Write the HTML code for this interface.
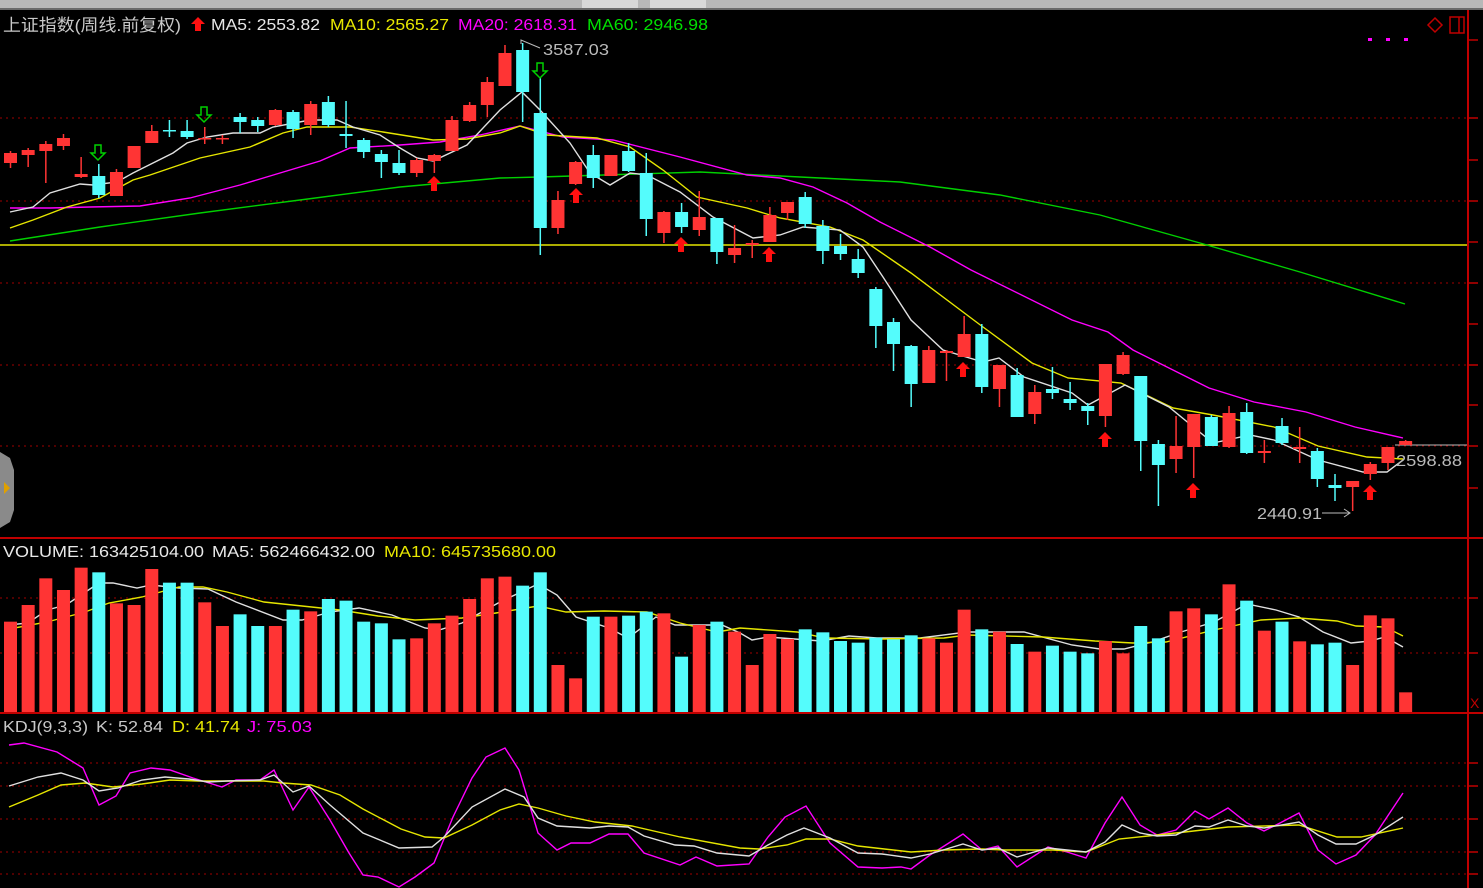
<!DOCTYPE html>
<html><head><meta charset="utf-8"><style>
html,body{margin:0;padding:0;background:#000;width:1483px;height:888px;overflow:hidden}
svg{display:block}
text{font-family:"Liberation Sans","Noto Sans CJK SC",sans-serif}
</style></head><body>
<svg id="s" width="1483" height="888" xmlns="http://www.w3.org/2000/svg">
<rect width="1483" height="888" fill="#000"/>
<rect x="0" y="0" width="1483" height="9" fill="#b8b8b8"/>
<rect x="0" y="8" width="1483" height="2" fill="#6a6a6a"/>
<rect x="582" y="0" width="56" height="8" fill="#d8d8d8"/><rect x="650" y="0" width="56" height="8" fill="#d8d8d8"/>
<g id="grid" stroke="#a00000" stroke-width="1" stroke-dasharray="2,4"></g>
<line x1="0" y1="245" x2="1468" y2="245" stroke="#e6e600" stroke-width="1.5"/>
<line x1="1395" y1="445" x2="1468" y2="445" stroke="#bbb" stroke-width="1"/>
<line x1="0" y1="538" x2="1483" y2="538" stroke="#c00000" stroke-width="2"/>
<line x1="0" y1="713" x2="1483" y2="713" stroke="#c00000" stroke-width="2"/>
<line x1="1468" y1="10" x2="1468" y2="888" stroke="#c00000" stroke-width="2"/>
<g id="ticks" stroke="#c00000" stroke-width="1.5"></g>
<g id="lines" fill="none"></g>
<g id="cndl"></g>
<g id="vol"></g>
<g id="arr"></g>
<path d="M0 452 L10 458 L14 470 L14 510 L10 522 L0 528 Z" fill="#8a8a8a"/>
<path d="M4 482 L10 488 L4 494 Z" fill="#e0a000"/>
<text x="3" y="31" font-size="17" fill="#c8c8c8" textLength="178" lengthAdjust="spacingAndGlyphs">上证指数(周线.前复权)</text>
<path d="M198 17 L205 24 L201 24 L201 31 L195 31 L195 24 L191 24 Z" fill="#ff1010"/>
<text x="211" y="30" font-size="16" fill="#e8e8e8" textLength="109" lengthAdjust="spacingAndGlyphs">MA5: 2553.82</text>
<text x="330" y="30" font-size="16" fill="#e8e800" textLength="119" lengthAdjust="spacingAndGlyphs">MA10: 2565.27</text>
<text x="458" y="30" font-size="16" fill="#ff00ff" textLength="119" lengthAdjust="spacingAndGlyphs">MA20: 2618.31</text>
<text x="587" y="30" font-size="16" fill="#00e000" textLength="121" lengthAdjust="spacingAndGlyphs">MA60: 2946.98</text>
<text x="3" y="557" font-size="16" fill="#e8e8e8" textLength="201" lengthAdjust="spacingAndGlyphs">VOLUME: 163425104.00</text>
<text x="212" y="557" font-size="16" fill="#e8e8e8" textLength="163" lengthAdjust="spacingAndGlyphs">MA5: 562466432.00</text>
<text x="384" y="557" font-size="16" fill="#e8e800" textLength="172" lengthAdjust="spacingAndGlyphs">MA10: 645735680.00</text>
<text x="3" y="732" font-size="16" fill="#c8c8c8" textLength="85" lengthAdjust="spacingAndGlyphs">KDJ(9,3,3)</text>
<text x="96" y="732" font-size="16" fill="#c8c8c8" textLength="67" lengthAdjust="spacingAndGlyphs">K: 52.84</text>
<text x="172" y="732" font-size="16" fill="#e8e800" textLength="68" lengthAdjust="spacingAndGlyphs">D: 41.74</text>
<text x="247" y="732" font-size="16" fill="#ff00ff" textLength="65" lengthAdjust="spacingAndGlyphs">J: 75.03</text>
<text x="543" y="55" font-size="16" fill="#bbb" textLength="66" lengthAdjust="spacingAndGlyphs">3587.03</text>
<path d="M521 44 L521 40 L540 48" stroke="#bbb" fill="none"/>
<text x="1396" y="466" font-size="16" fill="#bbb" textLength="66" lengthAdjust="spacingAndGlyphs">2598.88</text>
<text x="1257" y="519" font-size="16" fill="#bbb" textLength="65" lengthAdjust="spacingAndGlyphs">2440.91</text>
<path d="M1322 513 L1350 513 M1344 509 L1350 513 L1344 517" stroke="#bbb" fill="none"/>
<rect x="1368" y="38" width="4" height="3" fill="#ff00ff"/><rect x="1386" y="38" width="4" height="3" fill="#ff00ff"/><rect x="1404" y="38" width="4" height="3" fill="#ff00ff"/>
<path d="M1435 18 L1442 25 L1435 32 L1428 25 Z" fill="none" stroke="#c00000" stroke-width="1.5"/>
<rect x="1450" y="17" width="14" height="16" fill="none" stroke="#c00000" stroke-width="1.5"/><line x1="1459" y1="17" x2="1459" y2="33" stroke="#c00000" stroke-width="1.5"/>
<text x="1470" y="708" font-size="14" fill="#c00000">X</text>
</svg>
<script>
var NS="http://www.w3.org/2000/svg";
function el(p,t,a){var e=document.createElementNS(NS,t);for(var k in a)e.setAttribute(k,a[k]);document.getElementById(p).appendChild(e);return e;}
var R="#ff3434",C="#54fcfc";
[118,201,283,365,446,598,653,763,786,819,852,874].forEach(function(y){el("grid","line",{x1:0,y1:y,x2:1468,y2:y});});
[40,118,160,201,242,283,324,365,405,446,488,598,653,763,786,819,852,874].forEach(function(y){el("ticks","line",{x1:1468,y1:y,x2:1478,y2:y});});
var c=[
["r",153,163,151,168],["r",150,155,148,167],["r",144,151,141,183],["r",138,146,134,150],["r",174,177,157,178],
["c",176,195,164,198],["r",172,196,169,196],["r",146,168,146,168],["r",131,143,125,143],["c",130,131,120,137],
["c",131,137,120,139],["r",138,139,127,144],["r",138,139,135,144],["c",117,122,113,133],["c",120,126,117,132],
["r",110,125,109,126],["c",112,129,110,138],["r",104,125,101,135],["c",102,125,96,127],["c",134,136,101,148],
["c",140,152,138,158],["c",154,162,150,178],["c",163,173,150,175],["r",160,173,158,177],["r",155,161,154,173],
["r",120,151,116,151],["r",105,121,102,122],["r",82,105,77,117],["r",53,86,45,86],["c",50,92,43,122],
["c",113,228,78,255],["r",200,228,191,234],["r",162,184,161,185],["c",155,178,145,188],["r",155,176,155,176],
["c",151,171,143,172],["c",173,219,153,236],["r",212,233,211,243],["c",212,227,203,233],["r",217,230,191,236],
["c",218,252,218,264],["r",248,255,225,263],["r",243,245,240,258],["r",215,242,207,242],["r",202,213,202,220],
["c",197,224,192,228],["c",226,251,220,264],["c",246,254,234,260],["c",259,273,249,278],["c",289,326,287,348],
["c",322,344,318,371],["c",346,384,345,407],["r",350,383,346,383],["r",351,353,350,381],["r",334,357,316,357],
["c",334,387,324,393],["r",365,389,365,407],["c",375,417,368,417],["r",392,414,385,424],["c",389,393,367,399],
["c",399,403,382,410],["c",406,411,403,425],["r",364,416,364,427],["r",355,374,352,375],["c",376,441,376,471],
["c",444,465,440,506],["r",446,459,416,473],["r",414,447,414,478],["c",417,446,415,446],["r",413,447,406,448],
["c",412,453,403,454],["r",451,453,440,463],["c",426,443,418,445],["r",447,449,427,463],["c",451,479,448,487],
["c",485,488,474,501],["r",481,487,481,511],["r",464,474,462,480],["r",447,463,447,470],["r",441,445,440,445]];
var vt=[260,210,130,165,98,112,205,210,102,143,143,202,273,238,273,273,224,229,192,197,260,265,313,310,265,242,192,130,125,152,112,390,430,245,245,242,230,235,365,270,260,290];
var vt2=[390,297,312,283,292,318,323,308,313,301,310,323,224,283,290,327,350,332,350,355,318,355,273,310,229,220,238,148,197,287,260,319,328,323,390,241,250,472];
function X(i){return 10.5+i*17.66;}
c.forEach(function(d,i){
 var col=d[0]=="r"?R:C,x=X(i);
 el("cndl","line",{x1:x,y1:d[3],x2:x,y2:d[4],stroke:col,"stroke-width":1.5});
 var h=Math.max(1.5,d[2]-d[1]);
 el("cndl","rect",{x:x-6.5,y:d[1],width:13,height:h,fill:col});
 var t=i<42?535+vt[i]/3:535+vt2[i-42]/3;
 el("vol","rect",{x:x-6.5,y:t,width:13,height:712-t,fill:col});
});
[[434,176],[576,188],[681,237],[769,247],[963,362],[1105,432],[1193,483],[1370,485]].forEach(function(p){
 var x=p[0],y=p[1];el("arr","path",{d:"M"+x+" "+y+" L"+(x+7)+" "+(y+7)+" L"+(x+3)+" "+(y+7)+" L"+(x+3)+" "+(y+15)+" L"+(x-3)+" "+(y+15)+" L"+(x-3)+" "+(y+7)+" L"+(x-7)+" "+(y+7)+" Z",fill:"#ff1010"});});
[[98,145],[204,107],[540,63]].forEach(function(p){
 var x=p[0],y=p[1];el("arr","path",{d:"M"+(x-3)+" "+y+" L"+(x+3)+" "+y+" L"+(x+3)+" "+(y+8)+" L"+(x+7)+" "+(y+8)+" L"+x+" "+(y+15)+" L"+(x-7)+" "+(y+8)+" L"+(x-3)+" "+(y+8)+" Z",fill:"none",stroke:"#00d000","stroke-width":1.5});});
function L(pts,col){el("lines","polyline",{points:pts.map(function(p){return p.join(",")}).join(" "),stroke:col,"stroke-width":1.4});}
L([[10,241],[100,227],[200,213],[300,200],[400,187],[500,178],[540,177],[700,172],[800,177],[900,182],[1000,195],[1100,215],[1200,243],[1300,272],[1405,304]],"#00d000");
L([[10,208],[50,208],[90,207],[140,206],[190,198],[240,185],[290,170],[320,161],[350,148],[400,145],[440,142],[480,135],[520,126],[563,137],[613,140],[680,157],[747,175],[780,178],[813,187],[847,203],[880,222],[930,247],[971,270],[1072,320],[1108,332],[1133,350],[1209,388],[1254,402],[1306,412],[1355,427],[1403,438]],"#ff00ff");
L([[10,228],[33,220],[67,207],[100,198],[133,180],[150,175],[200,158],[250,147],[283,133],[307,127],[350,127],[383,132],[433,140],[467,139],[500,133],[520,126],[547,135],[597,138],[630,147],[663,170],[697,197],[747,208],[780,218],[830,227],[863,240],[911,273],[983,327],[1032,363],[1068,378],[1121,383],[1173,408],[1213,415],[1274,427],[1318,446],[1367,457],[1403,459]],"#e6e600");
L([[10,212],[33,207],[50,193],[80,184],[93,185],[117,182],[133,173],[173,153],[187,143],[207,137],[233,133],[260,133],[273,127],[310,120],[337,120],[353,127],[380,135],[400,148],[417,158],[433,161],[467,145],[500,110],[522,92],[540,110],[570,143],[590,173],[610,185],[630,173],[647,175],[680,192],[713,217],[753,238],[780,235],[803,227],[840,230],[863,247],[883,277],[911,320],[943,350],[983,362],[999,358],[1024,377],[1072,393],[1088,405],[1125,385],[1169,407],[1213,443],[1250,435],[1274,440],[1318,460],[1363,472],[1387,472],[1403,460]],"#e0e0e0");
L([[9,625],[28,623],[47,610],[66,605],[99,583],[113,583],[137,588],[151,585],[179,588],[208,589],[236,602],[283,620],[302,620],[330,612],[359,608],[392,615],[425,628],[439,630],[462,623],[500,602],[538,584],[557,595],[576,617],[609,628],[628,638],[656,617],[675,625],[722,625],[740,633],[752,640],[768,637],[821,641],[849,636],[877,638],[920,638],[967,632],[1024,632],[1072,645],[1100,649],[1124,649],[1152,642],[1181,632],[1214,622],[1247,604],[1276,610],[1299,617],[1323,632],[1351,643],[1370,641],[1385,637],[1403,647]],"#e0e0e0");
L([[9,629],[47,622],[85,612],[109,603],[142,597],[179,587],[203,587],[227,592],[264,602],[302,606],[340,610],[378,616],[415,620],[462,618],[496,613],[538,606],[566,612],[604,611],[647,612],[680,623],[717,632],[740,628],[797,632],[825,638],[882,639],[944,638],[967,635],[1043,637],[1095,641],[1133,643],[1166,642],[1214,630],[1261,620],[1299,618],[1337,621],[1356,626],[1385,627],[1403,636]],"#e6e600");
L([[9,745],[24,743],[57,752],[83,768],[99,805],[116,796],[130,773],[151,768],[170,770],[193,778],[222,787],[236,780],[260,780],[274,770],[293,810],[309,787],[330,820],[349,853],[363,875],[378,877],[399,887],[415,877],[434,863],[453,817],[472,778],[486,757],[505,748],[519,770],[538,833],[557,850],[571,843],[590,843],[609,834],[628,834],[644,853],[680,865],[696,857],[717,866],[749,864],[768,837],[785,817],[806,806],[830,843],[858,867],[882,868],[901,867],[911,869],[930,855],[963,834],[982,850],[998,846],[1017,867],[1048,847],[1067,852],[1086,858],[1105,823],[1122,797],[1140,825],[1157,835],[1176,830],[1195,811],[1209,819],[1228,808],[1247,823],[1264,831],[1280,823],[1299,813],[1318,850],[1336,864],[1356,855],[1375,835],[1403,793]],"#ff00ff");
L([[9,807],[38,795],[61,785],[85,783],[113,787],[142,784],[170,780],[198,781],[227,781],[264,781],[283,783],[311,785],[340,795],[363,809],[401,829],[425,837],[444,838],[472,825],[500,810],[519,804],[538,808],[566,816],[595,822],[632,826],[680,837],[740,848],[759,849],[787,845],[806,839],[830,839],[858,846],[911,852],[944,850],[982,849],[1005,850],[1053,850],[1086,852],[1119,839],[1148,836],[1185,832],[1228,827],[1299,825],[1337,837],[1361,837],[1403,828]],"#e6e600");
L([[9,786],[38,777],[61,773],[83,780],[99,791],[118,788],[142,780],[165,777],[189,779],[208,782],[227,781],[260,780],[274,775],[293,792],[309,786],[330,805],[363,833],[399,848],[432,847],[444,837],[472,807],[505,789],[524,797],[538,818],[557,826],[590,828],[609,826],[628,827],[644,836],[675,845],[694,846],[717,853],[749,856],[768,845],[787,835],[804,828],[830,838],[858,853],[882,854],[911,858],[930,854],[963,844],[982,850],[998,848],[1017,857],[1048,848],[1067,850],[1086,852],[1105,842],[1122,825],[1140,833],[1157,836],[1176,835],[1195,826],[1209,827],[1228,820],[1247,826],[1264,828],[1299,822],[1318,835],[1336,844],[1356,844],[1375,835],[1403,817]],"#e0e0e0");
</script>
</body></html>
